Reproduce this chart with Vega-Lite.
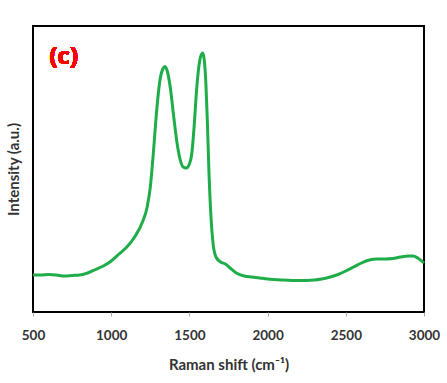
{
  "$schema": "https://vega.github.io/schema/vega-lite/v6.json",
  "width": 391,
  "height": 286,
  "autosize": "none",
  "padding": {"left": 33, "top": 26, "right": 23, "bottom": 71},
  "background": "white",
  "config": {
    "view": {"stroke": "#000000", "strokeWidth": 2},
    "font": "Lato"
  },
  "data": {"values": [
    {"x": 500, "y": 37}, {"x": 550, "y": 37}, {"x": 600, "y": 37.5}, {"x": 650, "y": 37}, {"x": 700, "y": 36},
    {"x": 750, "y": 36.5}, {"x": 800, "y": 37}, {"x": 850, "y": 39}, {"x": 900, "y": 42.5}, {"x": 950, "y": 46},
    {"x": 1000, "y": 51}, {"x": 1050, "y": 58}, {"x": 1100, "y": 65}, {"x": 1150, "y": 75}, {"x": 1200, "y": 90},
    {"x": 1230, "y": 105}, {"x": 1250, "y": 125}, {"x": 1270, "y": 160}, {"x": 1290, "y": 200}, {"x": 1310, "y": 230},
    {"x": 1330, "y": 243}, {"x": 1345, "y": 245.5}, {"x": 1360, "y": 240}, {"x": 1380, "y": 222}, {"x": 1400, "y": 195},
    {"x": 1420, "y": 170}, {"x": 1440, "y": 153}, {"x": 1460, "y": 145}, {"x": 1480, "y": 144}, {"x": 1500, "y": 148},
    {"x": 1515, "y": 158}, {"x": 1530, "y": 185}, {"x": 1545, "y": 220}, {"x": 1560, "y": 245}, {"x": 1575, "y": 257},
    {"x": 1585, "y": 259}, {"x": 1595, "y": 252}, {"x": 1605, "y": 230}, {"x": 1615, "y": 190}, {"x": 1625, "y": 140},
    {"x": 1640, "y": 90}, {"x": 1655, "y": 64}, {"x": 1670, "y": 55}, {"x": 1700, "y": 50}, {"x": 1730, "y": 48},
    {"x": 1760, "y": 44}, {"x": 1800, "y": 39}, {"x": 1850, "y": 36}, {"x": 1900, "y": 35}, {"x": 1950, "y": 34},
    {"x": 2000, "y": 33}, {"x": 2100, "y": 32}, {"x": 2200, "y": 31.5}, {"x": 2300, "y": 32}, {"x": 2400, "y": 35},
    {"x": 2450, "y": 37.5}, {"x": 2500, "y": 41}, {"x": 2550, "y": 45}, {"x": 2600, "y": 49}, {"x": 2650, "y": 52},
    {"x": 2700, "y": 53}, {"x": 2750, "y": 53}, {"x": 2800, "y": 53.5}, {"x": 2850, "y": 55}, {"x": 2900, "y": 56},
    {"x": 2930, "y": 56}, {"x": 2960, "y": 54}, {"x": 3000, "y": 49}
  ]},
  "layer": [
    {
      "mark": {"type": "line", "color": "#1fad4a", "strokeWidth": 3, "interpolate": "monotone"},
      "encoding": {
        "x": {
          "field": "x", "type": "quantitative",
          "scale": {"domain": [500, 3000], "nice": false},
          "axis": {
            "values": [500, 1000, 1500, 2000, 2500, 3000],
            "format": "d",
            "title": "Raman shift (cm⁻¹)",
            "domain": false, "grid": false,
            "ticks": true, "tickColor": "#aaaaaa", "tickSize": 4, "tickWidth": 1,
            "labelFont": "Lato", "labelFontSize": 13.5, "labelFontWeight": "bold", "labelColor": "#333333",
            "labelPadding": 12, "labelFlush": false,
            "titleFont": "Lato", "titleFontSize": 15, "titleFontWeight": "bold", "titleColor": "#333333",
            "titlePadding": 16
          }
        },
        "y": {
          "field": "y", "type": "quantitative",
          "scale": {"domain": [0, 286], "nice": false, "zero": false},
          "axis": {
            "title": "Intensity (a.u.)",
            "labels": false, "ticks": false, "domain": false, "grid": false,
            "titleFont": "Lato", "titleFontSize": 15, "titleFontWeight": "bold", "titleColor": "#333333",
            "titlePadding": 12
          }
        }
      }
    },
    {
      "mark": {"type": "text", "text": "(c)", "color": "#ff0000", "fontSize": 24, "fontWeight": "bold", "font": "Open Sans", "align": "left", "baseline": "middle"},
      "encoding": {
        "x": {"datum": 605},
        "y": {"datum": 255}
      }
    }
  ]
}
